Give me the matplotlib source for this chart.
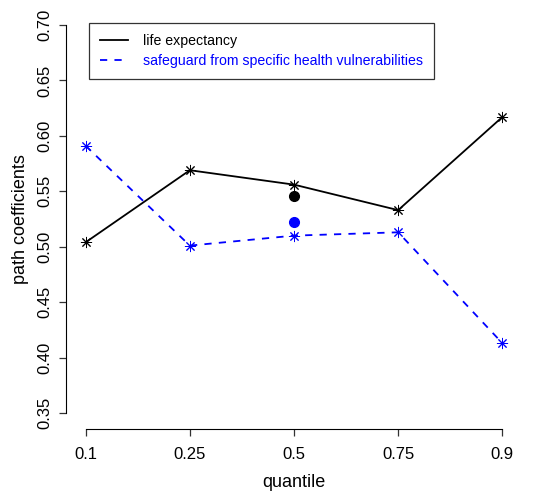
import matplotlib
matplotlib.use('Agg')
import matplotlib.pyplot as plt

plt.rcParams['font.family'] = ['Liberation Sans', 'DejaVu Sans']

quantiles = ['0.1', '0.25', '0.5', '0.75', '0.9']
life_exp = [0.504, 0.569, 0.556, 0.533, 0.617]
safeguard = [0.591, 0.501, 0.510, 0.513, 0.413]
# OLS estimates shown at the median position
ols_life = 0.546
ols_safe = 0.522

yticks = [0.35, 0.40, 0.45, 0.50, 0.55, 0.60, 0.65, 0.70]

fig = plt.figure(figsize=(5.4, 4.93), dpi=100)
ax = fig.add_axes([69 / 540, 1 - 428.5 / 493, 450 / 540, 419 / 493])

# spine placement first: moving a spine resets the tick objects
for side in ['top', 'right']:
    ax.spines[side].set_visible(False)
ax.spines['left'].set_position(('outward', 2))

x = list(range(1, len(quantiles) + 1))
asterisk = (8, 2, 0)

ax.plot(x, life_exp, '-', color='black', lw=1.3, marker=asterisk, ms=8, mew=0.7,
        label='life expectancy')
ax.plot(x, safeguard, '--', color='blue', lw=1.3, marker=asterisk, ms=8, mew=0.7,
        dashes=(4, 4), label='safeguard from specific health vulnerabilities')
ax.plot(3, ols_life, 'o', color='black', ms=7)
ax.plot(3, ols_safe, 'o', color='blue', ms=7)

ax.set_xlim(0.84, 5.16)
ax.set_ylim(0.336, 0.714)
ax.set_xticks(x)
ax.set_xticklabels(quantiles, fontsize=12)
ax.set_yticks(yticks)
ax.set_yticklabels(['%.2f' % v for v in yticks], fontsize=12)
ax.tick_params(axis='y', labelrotation=90)
for lab in ax.get_yticklabels():
    lab.set_va('center')

ax.spines['left'].set_bounds(0.35, 0.70)
ax.spines['bottom'].set_bounds(1, 5)
ax.tick_params(length=5, width=0.9, color='#333333')
ax.tick_params(axis='x', pad=8)
ax.tick_params(axis='y', pad=5)

ax.set_xlabel('quantile', fontsize=13, labelpad=9)
ax.set_ylabel('path coefficients', fontsize=13, labelpad=6)

leg = ax.legend(loc='upper left', bbox_to_anchor=(0.044, 0.968), borderaxespad=0,
                fontsize=10.2, frameon=True, fancybox=False, edgecolor='black',
                handlelength=2.0, borderpad=0.8, labelspacing=0.38, handletextpad=1.0)
leg.get_frame().set_linewidth(0.9)
leg.get_texts()[1].set_color('blue')
for h in leg.legend_handles:
    h.set_marker('')

fig.savefig('out.png', dpi=100)
